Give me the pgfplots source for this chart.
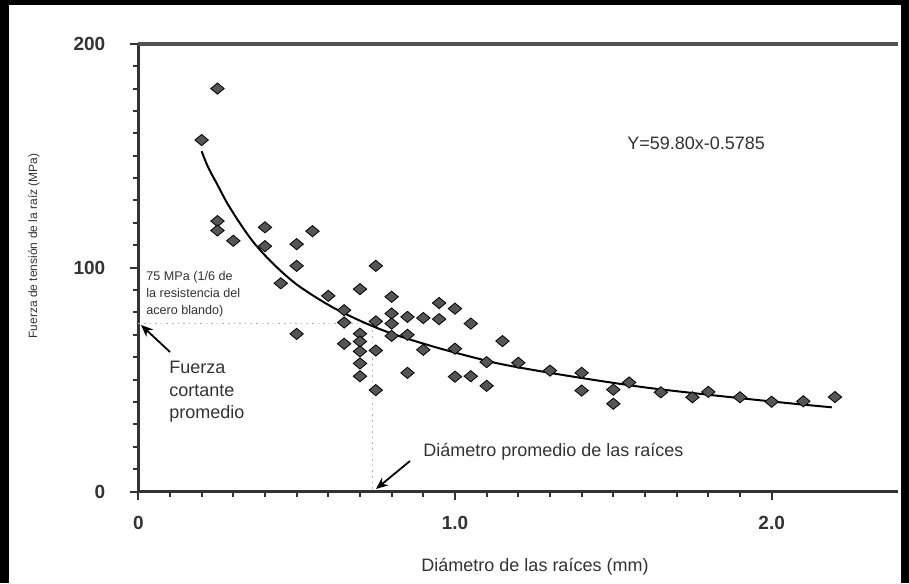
\documentclass[border=0pt]{standalone}
\usepackage{pgfplots}
\pgfplotsset{compat=1.18}
\usepackage{fontspec}
\setmainfont{Liberation Sans}
\usetikzlibrary{arrows.meta}
\definecolor{ink}{HTML}{333333}
\definecolor{dots}{HTML}{555555}

\begin{document}
\begin{tikzpicture}[px/.style={shift={(0,291.5pt)},x=0.5pt,y=-0.5pt}]
\useasboundingbox (0pt,0pt) rectangle (454.5pt,291.5pt);
% white page, laid in narrow strips
\begin{scope}[px]
  \foreach \k in {0,...,26} {
    \path[fill=white] (9,{\k*22}) rectangle (901,{\k*22+23});
  }
\end{scope}

\begin{axis}[
  at={(69.15pt,45.75pt)}, anchor=south west,
  scale only axis, width=380pt, height=223.85pt,
  xmin=0, xmax=2.4, ymin=0, ymax=200,
  axis lines*=left,
  axis line style={-, draw=ink, line width=1.6pt},
  xtick={0,1,2}, xticklabels={0,1.0,2.0},
  ytick={0,100,200}, yticklabels={0,100,200},
  minor x tick num=9, minor y tick num=9,
  tick align=outside,
  major tick length=4pt, minor tick length=2.5pt,
  tick style={draw=ink, line width=1pt},
  ticklabel style={font=\fontsize{9.5}{11}\selectfont\bfseries, text=ink},
  xticklabel style={yshift=-5pt},
  yticklabel style={xshift=-9pt},
  clip=false,
]
% faint guide lines for the averages
\draw[gray!60, dotted, line width=0.8pt] (axis cs:0,75) -- (axis cs:0.74,75);
\draw[gray!60, dotted, line width=0.8pt] (axis cs:0.74,72) -- (axis cs:0.74,0);

\addplot[only marks, mark=diamond*, mark size=2.8pt,
  mark options={xscale=1.6, fill=dots, draw=none}] coordinates {
  (0.25,180) (0.20,157) (0.25,120.8) (0.25,116.6) (0.30,112)
  (0.40,118) (0.40,109.6) (0.50,110.5) (0.55,116.3) (0.50,100.8)
  (0.45,93) (0.50,70.4) (0.60,87.4) (0.65,81) (0.65,75.5) (0.65,66)
  (0.70,90.4) (0.75,100.8) (0.70,70.5) (0.70,67) (0.70,62.6)
  (0.70,57.2) (0.70,51.5) (0.75,76) (0.75,63) (0.75,45.3)
  (0.80,87) (0.80,79.5) (0.80,75) (0.80,69.5) (0.85,78) (0.85,70)
  (0.85,53) (0.90,77.5) (0.90,63.3) (0.95,84.2) (0.95,77)
  (1.00,81.7) (1.00,63.8) (1.00,51.3) (1.05,75) (1.05,51.5)
  (1.10,57.8) (1.10,47.2) (1.15,67.2) (1.20,57.5) (1.30,54)
  (1.40,53) (1.40,45.1) (1.50,45.5) (1.50,39.2) (1.55,48.7)
  (1.65,44.3) (1.75,42.1) (1.80,44.5) (1.90,42.1) (2.00,40.1)
  (2.10,40.3) (2.20,42.2)
};

\addplot[smooth, black, line width=1pt] coordinates {
  (0.20,152) (0.22,145) (0.25,137) (0.28,129) (0.32,120) (0.36,112)
  (0.40,105.5) (0.45,98.5) (0.50,92.5) (0.56,86.8) (0.62,81.8)
  (0.70,76.3) (0.78,71.6) (0.86,67.8) (0.95,64.0) (1.05,60.2)
  (1.15,56.8) (1.30,53.0) (1.45,49.6) (1.60,46.5) (1.75,44.0)
  (1.90,41.7) (2.05,39.5) (2.19,37.6)
};

\draw[ink!85, line width=2pt] (axis cs:0,200) -- (axis cs:2.4,200);
\end{axis}

\begin{scope}[px, text=ink]
  \node[anchor=west, inner sep=0, font=\fontsize{9}{11}\selectfont] at (627,143) {Y=59.80x-0.5785};
  \node[anchor=north west, align=left, inner sep=0, font=\fontsize{6.3}{8.4}\selectfont] at (146,271)
    {75 MPa (1/6 de\\la resistencia del\\acero blando)};
  \node[anchor=north west, align=left, inner sep=0, font=\fontsize{9}{11.2}\selectfont] at (169,361)
    {Fuerza\\cortante\\promedio};
  \node[anchor=west, inner sep=0, font=\fontsize{9}{11}\selectfont] at (423,452) {Diámetro promedio de las raíces};
  \node[rotate=90, inner sep=0, font=\fontsize{6}{7}\selectfont] at (34,246) {Fuerza de tensión de la raíz (MPa)};
  \node[inner sep=0, font=\fontsize{9}{11}\selectfont] at (535,567) {Diámetro de las raíces (mm)};
  \draw[black, line width=0.9pt, -{Stealth[length=6pt,width=5pt]}] (170,352) -- (141,325);
  \draw[black, line width=0.9pt, -{Stealth[length=6pt,width=5pt]}] (410,461) -- (376,489);
  % frame of the scan
  \path[fill=black] (0,0) rectangle (9,583);
  \path[fill=black] (0,0) rectangle (909,5);
  \path[fill=black] (901,0) rectangle (909,583);
\end{scope}
\end{tikzpicture}
\end{document}
